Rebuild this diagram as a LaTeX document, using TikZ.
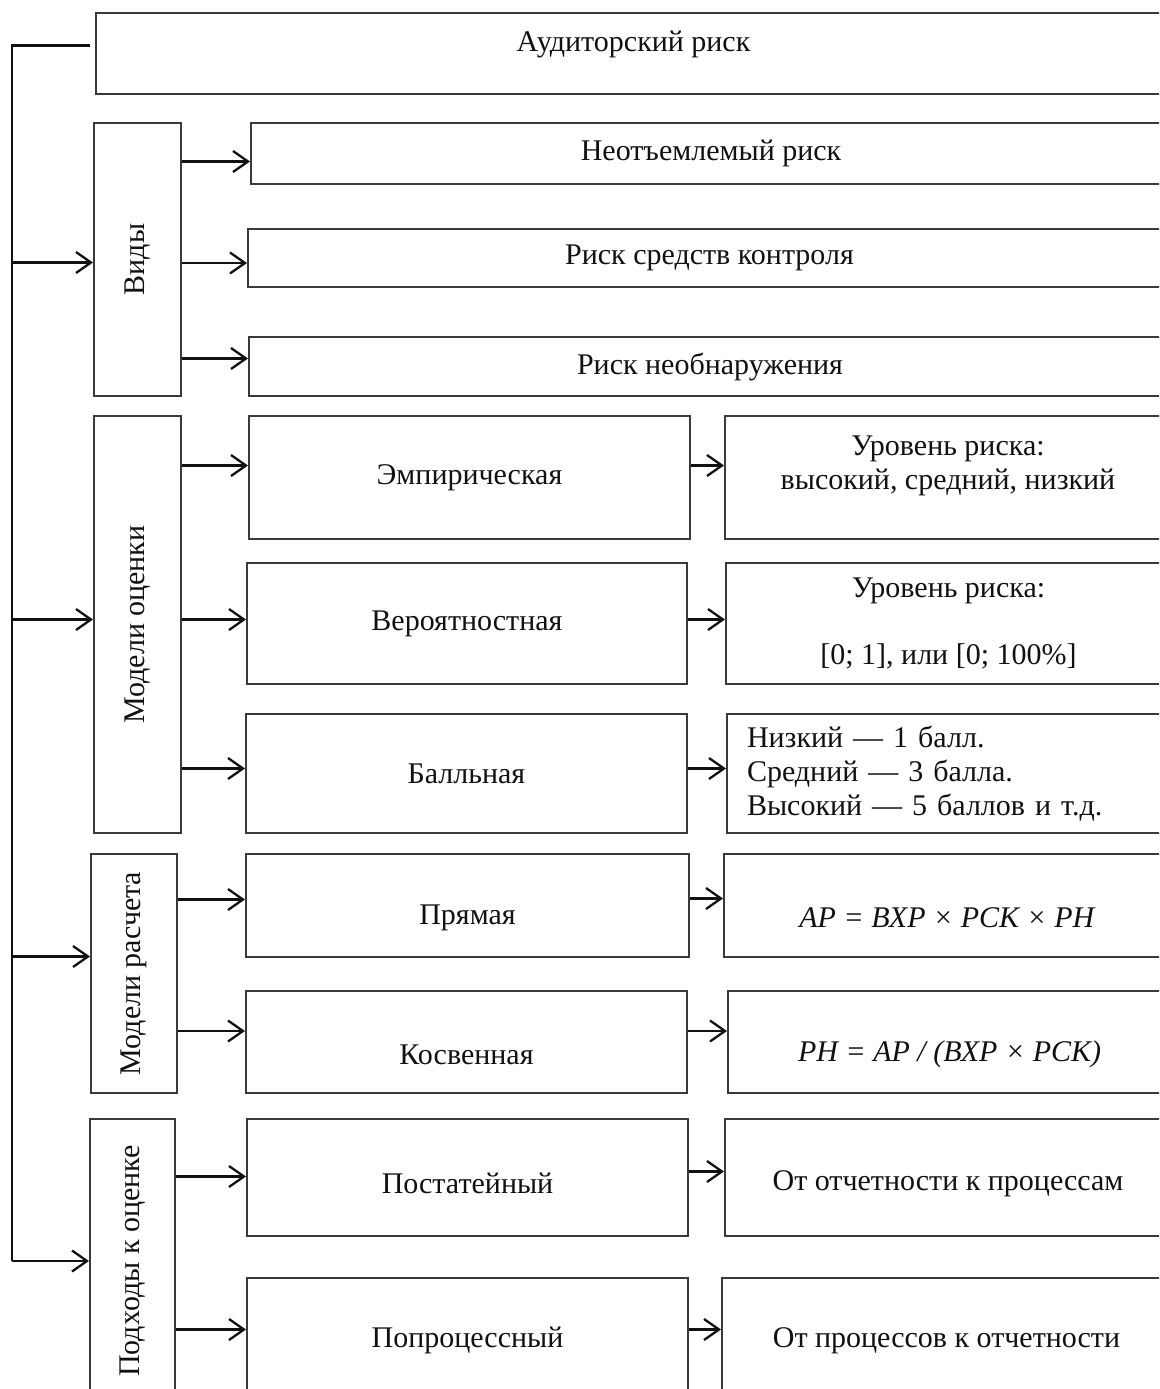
\documentclass[tikz,border=0pt]{standalone}
\usepackage{fontspec}
\setmainfont{Liberation Serif}
\usepackage{tikz}
\usetikzlibrary{arrows.meta, positioning}
\usepackage{xcolor}
\definecolor{boxline}{HTML}{3A3A3A}
\definecolor{ink}{HTML}{111111}
\tikzset{
    cell/.style={draw=boxline, line width=2pt, rectangle, inner sep=0pt, anchor=north west, align=center, text=ink, font=\fontsize{30}{34}\selectfont},
    link/.style={draw=ink, line width=2.3pt},
    arr/.style={link, -{Straight Barb[length=15pt, width=21pt, line width=2.3pt]}}
}
\begin{document}
\begin{tikzpicture}[x=1pt, y=-1pt]
                \useasboundingbox[fill=white] (0,0) rectangle (1159,1389);
                \clip (0,0) rectangle (1159,1389);
                \node[cell, minimum width=1075pt, minimum height=81pt, text depth=24pt] (audit) at (95,12) {Аудиторский риск};
                \node[cell, minimum width=87pt, minimum height=273pt] (vid) at (93,122) {\rotatebox{90}{Виды}};
                \node[cell, minimum width=920pt, minimum height=61pt] (neot) at (250,122) {Неотъемлемый риск};
                \node[cell, minimum width=923pt, minimum height=58pt] (riskk) at (247,228) {Риск средств контроля};
                \node[cell, minimum width=922pt, minimum height=59pt] (neobn) at (248,336) {Риск необнаружения};
                \node[cell, minimum width=87pt, minimum height=417pt] (ocen) at (93,415) {\rotatebox{90}{Модели оценки}};
                \node[cell, minimum width=441pt, minimum height=123pt] (emp) at (248,415) {Эмпирическая};
                \node[cell, minimum width=446pt, minimum height=123pt, text depth=30pt] (ur1) at (724,415) {Уровень риска:\\высокий, средний, низкий};
                \node[cell, minimum width=440pt, minimum height=121pt] (ver) at (246,562) {Вероятностная};
                \node[cell, minimum width=445pt, minimum height=121pt] (ur2) at (725,562) {Уровень риска:\\[33pt]{}[0; 1], или [0; 100\%]};
                \node[cell, minimum width=441pt, minimum height=119pt] (bal) at (245,713) {Балльная};
                \node[cell, minimum width=444pt, minimum height=119pt, inner xsep=20pt, text width=404pt, align=left] (ball) at (726,713) {Низкий — 1 балл.\\Средний — 3 балла.\\Высокий — 5 баллов и т.д.};
                \node[cell, minimum width=86pt, minimum height=239pt] (rasch) at (90,853) {\rotatebox{90}{Модели расчета}};
                \node[cell, minimum width=443pt, minimum height=103pt, text height=44pt] (pr) at (245,853) {Прямая};
                \node[cell, minimum width=447pt, minimum height=103pt, text height=44pt] (form1) at (723,853) {\textit{АР = ВХР × РСК × РН}};
                \node[cell, minimum width=441pt, minimum height=102pt, text height=45pt] (kos) at (245,990) {Косвенная};
                \node[cell, minimum width=443pt, minimum height=102pt, text height=45pt] (form2) at (727,990) {\textit{РН = АР / (ВХР × РСК)}};
                \node[cell, minimum width=85pt, minimum height=284pt] (podh) at (89,1118) {\rotatebox{90}{Подходы к оценке}};
                \node[cell, minimum width=441pt, minimum height=117pt, text height=33pt] (post) at (246,1118) {Постатейный};
                \node[cell, minimum width=446pt, minimum height=117pt, text height=33pt] (otch) at (724,1118) {От отчетности к процессам};
                \node[cell, minimum width=441pt, minimum height=125pt] (popr) at (246,1277) {Попроцессный};
                \node[cell, minimum width=449pt, minimum height=125pt] (proc) at (721,1277) {От процессов к отчетности};
                \draw[link] ([xshift=-5pt, yshift=8pt]audit.west) -- ++(-78,0) coordinate (ttop) -- (ttop |- podh.west);
                \foreach \t/\d in {vid/-3, ocen/5, rasch/17, podh/0}
                    \draw[arr] ([yshift=\d pt]\t.west -| ttop) -- ([yshift=\d pt]\t.west);
                \foreach \t/\d in {neot/-8, riskk/-5, neobn/8}
                    \draw[arr] ([yshift=\d pt]\t.west -| vid.east) -- ([yshift=\d pt]\t.west);
                \foreach \t/\d in {emp/12, ver/4, bal/5}
                    \draw[arr] ([yshift=\d pt]\t.west -| ocen.east) -- ([yshift=\d pt]\t.west);
                \foreach \t/\d in {pr/6, kos/11}
                    \draw[arr] ([yshift=\d pt]\t.west -| rasch.east) -- ([yshift=\d pt]\t.west);
                \foreach \t/\d in {post/1, popr/11}
                    \draw[arr] ([yshift=\d pt]\t.west -| podh.east) -- ([yshift=\d pt]\t.west);
                \foreach \s/\t/\d in {emp/ur1/12, ver/ur2/4, bal/ball/5, pr/form1/7, kos/form2/11, post/otch/6, popr/proc/11}
                    \draw[arr] ([yshift=\d pt]\s.east) -- ([yshift=\d pt]\s.east -| \t.west);
            \end{tikzpicture}
\end{document}
